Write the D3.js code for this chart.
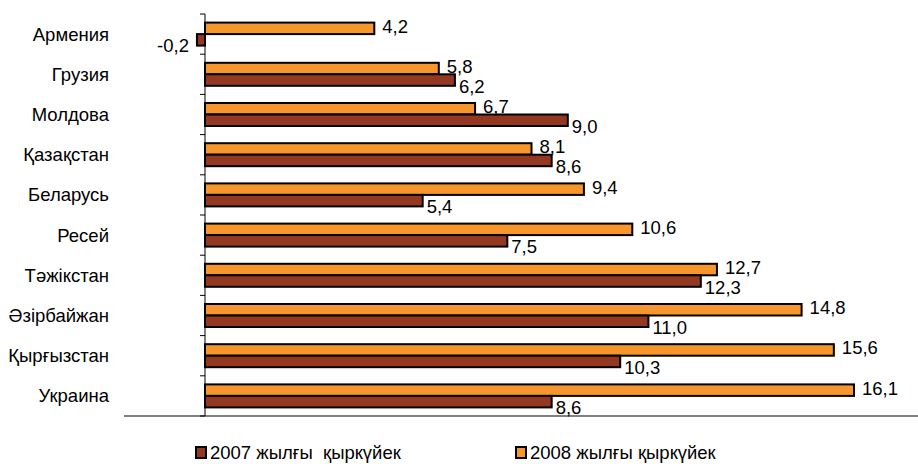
<!DOCTYPE html>
<html><head><meta charset="utf-8">
<script src="https://cdn.jsdelivr.net/npm/d3@7"></script>
<style>
body{margin:0;background:#fff;}
text{font-family:"Liberation Sans",Arial,sans-serif;fill:#000;}
</style></head>
<body><svg id="c" width="918" height="464"></svg>
<script>
const categories = ["Армения","Грузия","Молдова","Қазақстан","Беларусь","Ресей","Тәжікстан","Әзірбайжан","Қырғызстан","Украина"];
const values2008 = [4.2,5.8,6.7,8.1,9.4,10.6,12.7,14.8,15.6,16.1];
const values2007 = [-0.2,6.2,9.0,8.6,5.4,7.5,12.3,11.0,10.3,8.6];
const seriesNames = ["2007 жылғы  қыркүйек","2008 жылғы қыркүйек"];
const colors = {s2007:"#953822", s2008:"#F7962C"};

const svg = d3.select("#c");
const x = d3.scaleLinear().domain([0,16.1]).range([205,854]);
const y = d3.scaleBand().domain(categories).range([14,416]);
const fmt = v => d3.format(".1f")(v).replace(".",",").replace("\u2212","-");
const bh = 11.5;
const fs = 18.5;

// bottom line
svg.append("line").attr("x1",124).attr("x2",918).attr("y1",416).attr("y2",416)
  .attr("stroke","#808080").attr("stroke-width",2);

// vertical axis with ticks at band boundaries
const bounds = categories.map(c=>y(c)).concat([416]);
svg.selectAll("line.tk").data(bounds).join("line").attr("class","tk")
  .attr("x1",200).attr("x2",205).attr("y1",d=>d).attr("y2",d=>d)
  .attr("stroke","#000").attr("stroke-width",1);
svg.append("line").attr("x1",x(0)).attr("x2",x(0)).attr("y1",14).attr("y2",416)
  .attr("stroke","#000").attr("stroke-width",1);

// category labels
svg.selectAll("text.cat").data(categories).join("text").attr("class","cat")
  .attr("x",109).attr("y",d=>y(d)+y.bandwidth()/2).attr("dy","0.35em")
  .attr("text-anchor","end").attr("font-size",fs).text(d=>d);

const cy = c => y(c)+y.bandwidth()/2;

// 2008 bars (top)
svg.selectAll("rect.b8").data(categories).join("rect").attr("class","b8")
  .attr("x",(d,i)=>Math.min(x(0),x(values2008[i])))
  .attr("width",(d,i)=>Math.abs(x(values2008[i])-x(0)))
  .attr("y",d=>cy(d)-bh).attr("height",bh)
  .attr("fill",colors.s2008).attr("stroke","#000").attr("stroke-width",2);
// 2007 bars (bottom)
svg.selectAll("rect.b7").data(categories).join("rect").attr("class","b7")
  .attr("x",(d,i)=>Math.min(x(0),x(values2007[i])))
  .attr("width",(d,i)=>Math.abs(x(values2007[i])-x(0)))
  .attr("y",d=>cy(d)).attr("height",bh)
  .attr("fill",colors.s2007).attr("stroke","#000").attr("stroke-width",2);

// value labels
svg.selectAll("text.l8").data(categories).join("text").attr("class","l8")
  .attr("x",(d,i)=>x(values2008[i])+8).attr("y",d=>cy(d)-bh/2-2).attr("dy","0.35em")
  .attr("font-size",fs).text((d,i)=>fmt(values2008[i]));
svg.selectAll("text.l7").data(categories).join("text").attr("class","l7")
  .attr("x",(d,i)=>values2007[i]<0 ? x(values2007[i])-8 : x(values2007[i])+4)
  .attr("text-anchor",(d,i)=>values2007[i]<0?"end":"start")
  .attr("y",d=>cy(d)+bh/2+6).attr("dy","0.35em")
  .attr("font-size",fs).text((d,i)=>fmt(values2007[i]));

// legend
const leg = [{n:seriesNames[0],c:colors.s2007,x:196},{n:seriesNames[1],c:colors.s2008,x:516}];
const lg = svg.selectAll("g.lg").data(leg).join("g").attr("class","lg")
  .attr("transform",d=>`translate(${d.x},447)`);
lg.append("rect").attr("width",10).attr("height",11).attr("fill",d=>d.c)
  .attr("stroke","#000").attr("stroke-width",2);
lg.append("text").attr("x",14).attr("y",5.5).attr("dy","0.35em").attr("font-size",fs)
  .style("white-space","pre").text(d=>d.n);
</script></body></html>
